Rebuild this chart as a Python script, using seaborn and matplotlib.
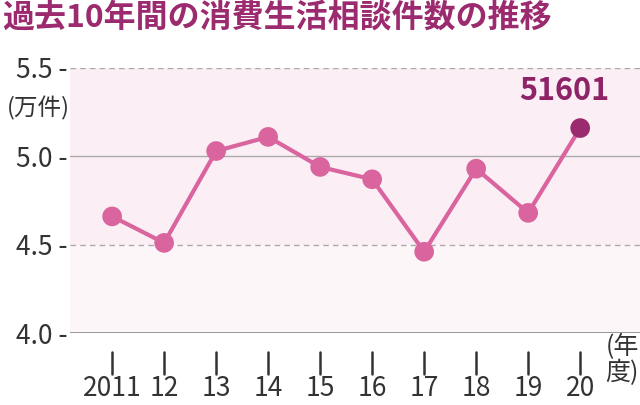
import matplotlib
matplotlib.use("Agg")
import matplotlib.pyplot as plt
import seaborn as sns
import pandas as pd

years = [2011, 2012, 2013, 2014, 2015, 2016, 2017, 2018, 2019, 2020]
values = [4.66, 4.51, 5.03, 5.11, 4.94, 4.87, 4.46, 4.93, 4.68, 5.16]
xlabels = ["2011", "12", "13", "14", "15", "16", "17", "18", "19", "20"]
yticks = [4.0, 4.5, 5.0, 5.5]

sns.set_style("white")
plt.rcParams['font.family'] = ['Noto Sans CJK JP', 'DejaVu Sans']

df = pd.DataFrame({"year": years, "v": values})
fig = plt.figure(figsize=(6.4, 4.05), dpi=100)
ax = fig.add_axes([70/640, 72/405, 570/640, 265/405])
ax.set_xlim(2010.19, 2021.15)
ax.set_ylim(4.0, 5.5)
ax.axhspan(4.5, 5.5, color="#fbeef4", zorder=0)
ax.axhspan(4.0, 4.5, color="#fdf6f9", zorder=0)
ax.axhline(5.0, color="#aaaaaa", lw=1, zorder=1)
for y in (4.5, 5.5):
    ax.axhline(y, color="#aaaaaa", lw=1, ls=(0, (4, 3)), zorder=1)
ax.axhline(4.0, color="#888888", lw=1.2, zorder=1)

col = "#d9649e"
sns.lineplot(data=df, x="year", y="v", ax=ax, color=col, lw=3, zorder=3)
sns.scatterplot(data=df.iloc[:-1], x="year", y="v", ax=ax, color=col, s=200, edgecolor="none", zorder=4)
sns.scatterplot(data=df.iloc[-1:], x="year", y="v", ax=ax, color="#9b2a6e", s=200, edgecolor="none", zorder=5)
ax.text(years[-1] - 0.3, values[-1] + 0.12, "51601", color="#8e2467", fontsize=22, fontweight="bold", ha="center", va="bottom")

for s in ax.spines.values():
    s.set_visible(False)
ax.set_xlabel(""); ax.set_ylabel("")
ax.set_yticks(yticks)
ax.set_yticklabels([f"{t:.1f} -" for t in yticks], fontsize=19, color="#333333")
ax.tick_params(axis="y", length=0, pad=2)
ax.set_xticks(years)
ax.set_xticklabels(xlabels, fontsize=19, color="#333333")
ax.tick_params(axis="x", length=0, pad=30)
for x in years:
    ax.plot([x, x], [3.89, 3.77], color="#333333", lw=1.8, clip_on=False)
ax.text(0.0, 5.27, "(万件)", transform=ax.get_yaxis_transform(), fontsize=17, color="#333333", ha="right", va="center")
fig.text(622/640, 45/405, "(年\n度)", fontsize=18, color="#333333", ha="center", va="center", linespacing=1.0)
fig.text(2/640, 387/405, "過去10年間の消費生活相談件数の推移", fontsize=23, fontweight="bold", color="#9b2a6e", ha="left", va="center")
fig.savefig("out.png", dpi=100)
